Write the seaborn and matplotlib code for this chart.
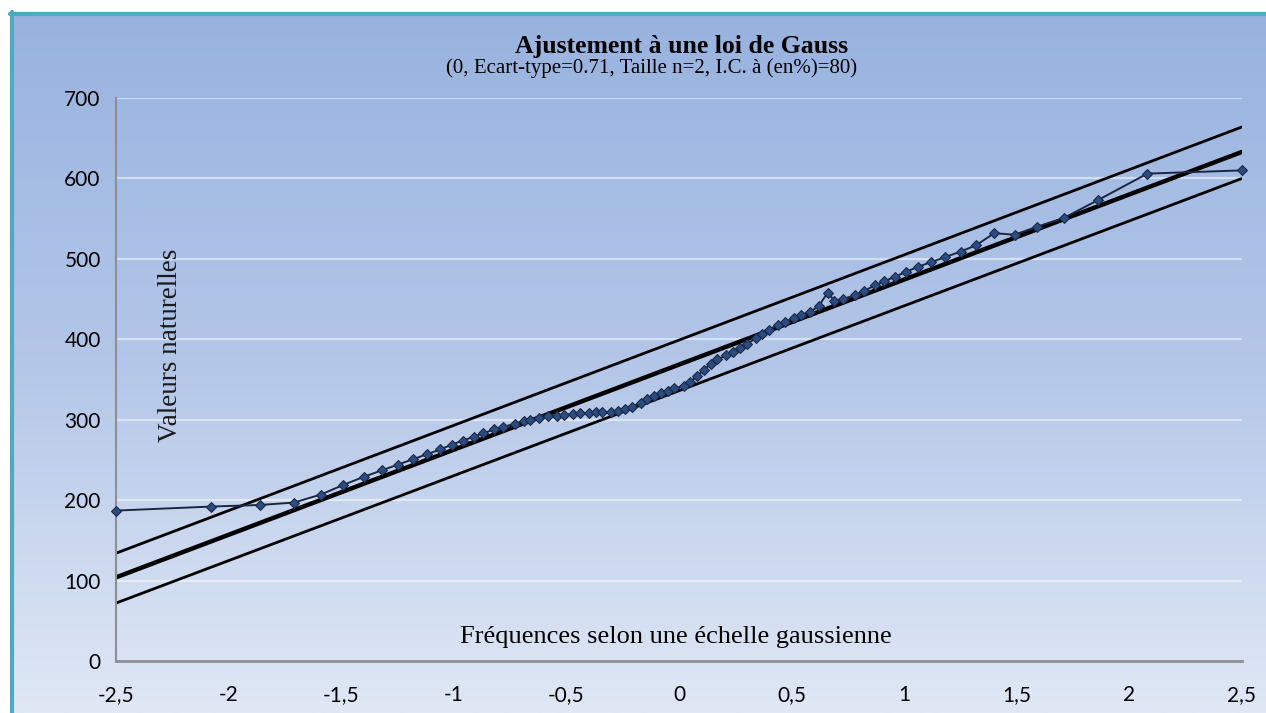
import matplotlib
matplotlib.use("Agg")
import matplotlib.pyplot as plt
import matplotlib.colors as mcolors
from matplotlib.lines import Line2D
from matplotlib.patches import Rectangle
from matplotlib.ticker import MultipleLocator
import numpy as np
import pandas as pd
import seaborn as sns

# Gaussian plotting positions of the 80 ordered observations
positions = [
    -2.50, -2.08, -1.86, -1.71, -1.59, -1.49, -1.40, -1.32, -1.25, -1.18,
    -1.12, -1.06, -1.01, -0.96, -0.91, -0.87, -0.82, -0.78, -0.73, -0.69,
    -0.66, -0.62, -0.58, -0.54, -0.51, -0.47, -0.44, -0.40, -0.37, -0.34,
    -0.30, -0.27, -0.24, -0.21, -0.17, -0.14, -0.11, -0.08, -0.05, -0.02,
    0.02, 0.05, 0.08, 0.11, 0.14, 0.17, 0.21, 0.24, 0.27, 0.30,
    0.34, 0.37, 0.40, 0.44, 0.47, 0.51, 0.54, 0.58, 0.62, 0.66,
    0.69, 0.73, 0.78, 0.82, 0.87, 0.91, 0.96, 1.01, 1.06, 1.12,
    1.18, 1.25, 1.32, 1.40, 1.49, 1.59, 1.71, 1.86, 2.08, 2.50,
]

# Ordered natural values
valeurs = [
    187, 192, 194, 197, 207, 219, 229, 237, 244, 251,
    257, 263, 269, 274, 279, 283, 288, 291, 295, 298,
    300, 302, 304, 305, 306, 307, 308, 308, 309, 309,
    310, 311, 313, 316, 321, 326, 330, 333, 336, 339,
    342, 347, 354, 362, 369, 375, 380, 384, 389, 394,
    401, 407, 412, 418, 422, 426, 430, 434, 441, 458,
    448, 450, 455, 460, 467, 472, 478, 484, 490, 496,
    502, 509, 517, 532, 530, 540, 551, 573, 606, 610,
]

# Fitted Gauss line and its 80 % confidence limits, at both ends of the scale
bornes = [-2.5, 2.5]
ajustement = [104, 633]
limite_sup = [134, 664]
limite_inf = [72, 600]

x_ticks = [-2.5, -2, -1.5, -1, -0.5, 0, 0.5, 1, 1.5, 2, 2.5]
x_tick_labels = ["-2,5", "-2", "-1,5", "-1", "-0,5", "0", "0,5", "1", "1,5", "2", "2,5"]
y_ticks = [0, 100, 200, 300, 400, 500, 600, 700]

titre = "Ajustement à une loi de Gauss"
sous_titre = "(0, Ecart-type=0.71, Taille n=2, I.C. à (en%)=80)"
label_x = "Fréquences selon une échelle gaussienne"
label_y = "Valeurs naturelles"

sns.set_theme(style="white")
plt.rcParams["font.family"] = ["Lato", "DejaVu Sans"]
SERIF = ["Liberation Serif", "DejaVu Serif"]

W, H = 1266, 713
fig = plt.figure(figsize=(W / 100, H / 100), dpi=100)

# Background: vertical blue gradient with a teal frame
bg = fig.add_axes([0, 0, 1, 1], zorder=-10)
bg.set_axis_off()
fond = mcolors.LinearSegmentedColormap.from_list(
    "fond", ["#97b2df", "#b3c6e8", "#e0e8f5"])
bg.imshow(np.linspace(0, 1, 256)[:, None], aspect="auto", cmap=fond,
          extent=[0, 1, 0, 1], origin="upper")
bg.set_xlim(0, 1)
bg.set_ylim(0, 1)
bg.add_patch(Rectangle((0, 1 - 12 / H), 1, 12 / H, color="white", lw=0))
bg.add_patch(Rectangle((0, 0), 10 / W, 1, color="white", lw=0))
bg.add_line(Line2D([12 / W, 12 / W], [0, 1 - 12 / H], color="#4aabc3", lw=3))
bg.add_line(Line2D([10 / W, 1], [1 - 14 / H, 1 - 14 / H], color="#4aabc3", lw=3))

ax = fig.add_axes([116 / W, 1 - 661 / H, 1126 / W, 563 / H])
ax.patch.set_alpha(0)

df_pts = pd.DataFrame({"x": positions, "y": valeurs})
df_fit = pd.DataFrame({"x": bornes, "y": ajustement})
df_sup = pd.DataFrame({"x": bornes, "y": limite_sup})
df_inf = pd.DataFrame({"x": bornes, "y": limite_inf})

for d in (df_sup, df_inf):
    sns.lineplot(data=d, x="x", y="y", ax=ax, color="black", lw=2.0,
                 estimator=None, sort=False, zorder=2)
sns.lineplot(data=df_fit, x="x", y="y", ax=ax, color="black", lw=3.2,
             estimator=None, sort=False, zorder=2)
sns.lineplot(data=df_pts, x="x", y="y", ax=ax, color="#1b2740", lw=1.4,
             marker="D", markersize=5, markerfacecolor="#2b4c82",
             markeredgecolor="#1b2740", estimator=None, sort=False,
             clip_on=False, zorder=3)

ax.set_xlim(-2.5, 2.5)
ax.set_ylim(0, 700)
ax.set_xticks(x_ticks)
ax.set_xticklabels(x_tick_labels)
ax.xaxis.set_minor_locator(MultipleLocator(0.1))
ax.set_yticks(y_ticks)
ax.set_yticklabels([str(v) for v in y_ticks])

ax.grid(axis="y", color="white", lw=1.6, alpha=0.5)
ax.grid(axis="x", visible=False)
ax.set_axisbelow(True)

for side in ("top", "right"):
    ax.spines[side].set_visible(False)
ax.spines["left"].set_color("#8c8f96")
ax.spines["left"].set_linewidth(1.5)
ax.spines["bottom"].set_color("#8c8f96")
ax.spines["bottom"].set_linewidth(2.0)

ax.tick_params(axis="y", direction="out", length=5, width=1.2,
               color="#8c8f96", labelsize=15, pad=6, labelcolor="black")
ax.tick_params(axis="x", which="major", direction="inout", length=14,
               width=1.6, color="#8c8f96", labelsize=15, pad=10,
               labelcolor="black")
ax.tick_params(axis="x", which="minor", direction="out", length=5,
               width=1.2, color="#8c8f96")

ax.set_xlabel(label_x, family=SERIF, fontsize=19, color="black")
ax.xaxis.set_label_coords(0.497, 0.043)
ax.xaxis.label.set_va("center")
ax.set_ylabel(label_y, family=SERIF, fontsize=19.5, color="#1a1a1a")
ax.yaxis.set_label_coords(0.048, 0.561)
ax.yaxis.label.set_va("center")

fig.text(682 / W, 1 - 47 / H, titre, family=SERIF, fontsize=18.5,
         fontweight="bold", ha="center", va="center", color="black")
fig.text(652 / W, 1 - 68 / H, sous_titre, family=SERIF, fontsize=15,
         ha="center", va="center", color="black")

fig.savefig("out.png", dpi=100)
